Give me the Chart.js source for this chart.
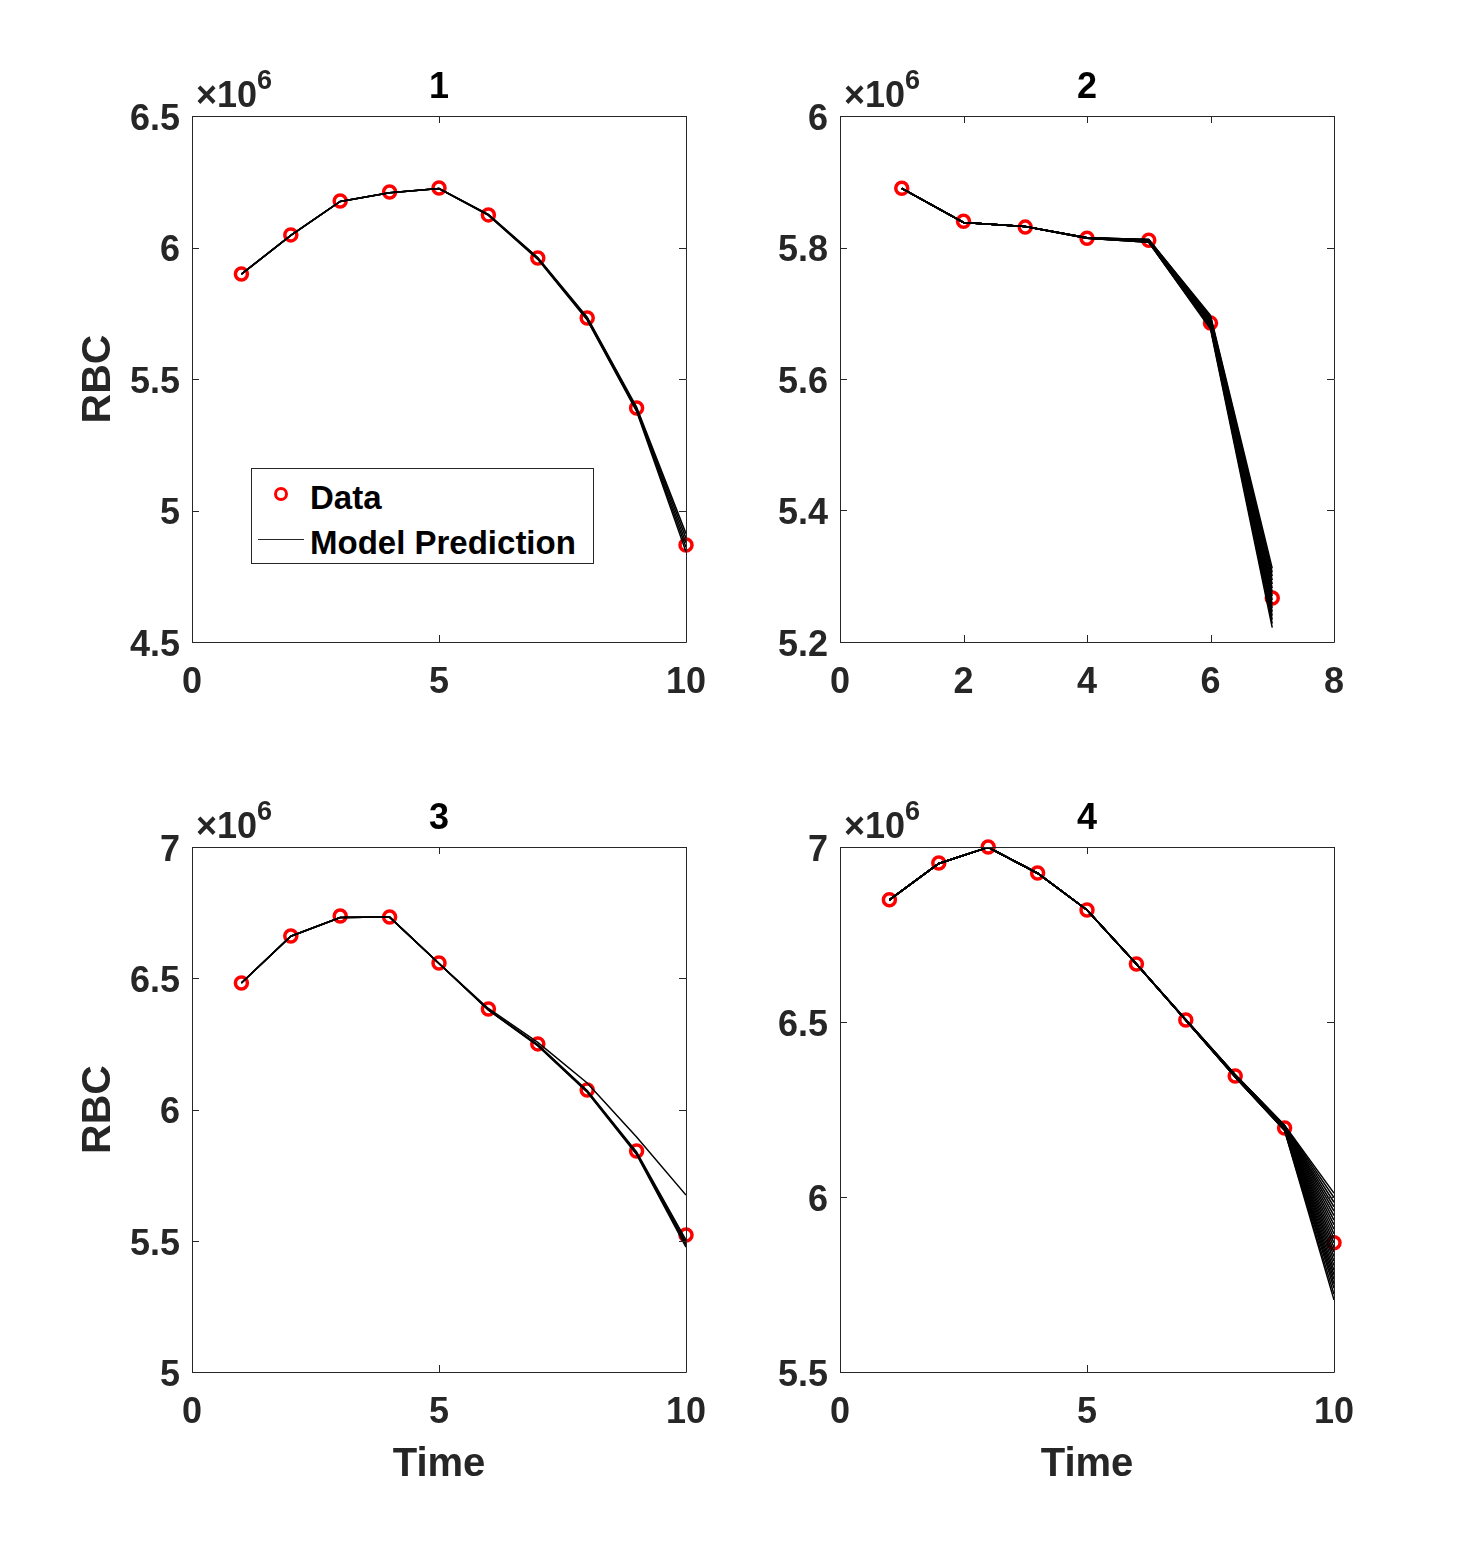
<!DOCTYPE html>
<html>
<head>
<meta charset="utf-8">
<script src="https://cdn.jsdelivr.net/npm/chart.js@4.4.0/dist/chart.umd.min.js"></script>
<style>
  body { margin: 0; background: #fff; width: 1475px; height: 1542px; position: relative; overflow: hidden;
         font-family: "Liberation Sans", Arial, sans-serif; }
  canvas { position: absolute; }
  #legend { position: absolute; left: 251px; top: 468px; width: 341px; height: 94px;
            border: 1px solid #262626; background: #fff; }
  #legend span { position: absolute; font-weight: bold; font-size: 33px; line-height: 33px; color: #000; white-space: nowrap; }
  #legend .mark { position: absolute; width: 14px; height: 14px; box-sizing: border-box;
                  border: 3.5px solid #ff0000; border-radius: 50%; }
  #legend .line { position: absolute; height: 0; border-top: 1px solid #262626; }
</style>
</head>
<body>
<canvas id="c1" width="666" height="722" style="left:60px;top:40px"></canvas>
<canvas id="c2" width="666" height="722" style="left:708px;top:40px"></canvas>
<canvas id="c3" width="666" height="731" style="left:60px;top:771px"></canvas>
<canvas id="c4" width="666" height="731" style="left:708px;top:771px"></canvas>

<div id="legend">
  <div class="mark" style="left:22px;top:18px"></div>
  <span style="left:58px;top:12px">Data</span>
  <div class="line" style="left:6px;top:70px;width:46px"></div>
  <span style="left:58px;top:57px">Model Prediction</span>
</div>

<script>
// RBC values in units of 10^6

// Panel 1
const time1 = [1, 2, 3, 4, 5, 6, 7, 8, 9, 10];
const rbc1 = [5.899, 6.048, 6.177, 6.211, 6.226, 6.124, 5.960, 5.732, 5.390, 4.869];
const model1 = [
  [5.899, 6.046, 6.175, 6.208, 6.224, 6.126, 5.962, 5.735, 5.393, 4.912],
  [5.899, 6.046, 6.175, 6.208, 6.224, 6.125, 5.960, 5.732, 5.389, 4.895],
  [5.899, 6.046, 6.175, 6.208, 6.224, 6.124, 5.958, 5.729, 5.385, 4.877],
  [5.899, 6.046, 6.175, 6.208, 6.224, 6.123, 5.957, 5.727, 5.381, 4.860],
  [5.899, 6.046, 6.175, 6.208, 6.224, 6.122, 5.955, 5.724, 5.377, 4.843]
];

// Panel 2
const time2 = [1, 2, 3, 4, 5, 6, 7];
const rbc2 = [5.890, 5.840, 5.831, 5.814, 5.811, 5.685, 5.267];
const model2 = [
  [5.890, 5.838, 5.832, 5.815, 5.812, 5.697, 5.312],
  [5.890, 5.838, 5.832, 5.815, 5.812, 5.695, 5.306],
  [5.890, 5.838, 5.832, 5.815, 5.812, 5.694, 5.300],
  [5.890, 5.838, 5.832, 5.815, 5.811, 5.692, 5.294],
  [5.890, 5.838, 5.832, 5.815, 5.811, 5.691, 5.288],
  [5.890, 5.838, 5.832, 5.815, 5.811, 5.689, 5.282],
  [5.890, 5.838, 5.832, 5.815, 5.811, 5.688, 5.276],
  [5.890, 5.838, 5.832, 5.815, 5.810, 5.686, 5.270],
  [5.890, 5.838, 5.832, 5.815, 5.810, 5.685, 5.264],
  [5.890, 5.838, 5.832, 5.815, 5.810, 5.684, 5.258],
  [5.890, 5.838, 5.832, 5.814, 5.809, 5.682, 5.252],
  [5.890, 5.838, 5.832, 5.814, 5.809, 5.681, 5.246],
  [5.890, 5.838, 5.832, 5.814, 5.809, 5.680, 5.240],
  [5.890, 5.838, 5.832, 5.814, 5.808, 5.679, 5.234],
  [5.890, 5.838, 5.832, 5.814, 5.808, 5.678, 5.228],
  [5.890, 5.838, 5.832, 5.814, 5.808, 5.676, 5.222]
];

// Panel 3
const time3 = [1, 2, 3, 4, 5, 6, 7, 8, 9, 10];
const rbc3 = [6.482, 6.661, 6.737, 6.733, 6.558, 6.383, 6.250, 6.074, 5.842, 5.522];
const model3 = [
  [6.482, 6.660, 6.731, 6.733, 6.556, 6.381, 6.247, 6.072, 5.838, 5.503],
  [6.482, 6.660, 6.731, 6.733, 6.556, 6.380, 6.245, 6.070, 5.834, 5.494],
  [6.482, 6.660, 6.731, 6.733, 6.556, 6.379, 6.244, 6.068, 5.831, 5.485],
  [6.482, 6.660, 6.731, 6.733, 6.556, 6.378, 6.242, 6.066, 5.828, 5.476],
  [6.482, 6.660, 6.731, 6.733, 6.556, 6.385, 6.256, 6.101, 5.895, 5.674]
];

// Panel 4
const time4 = [1, 2, 3, 4, 5, 6, 7, 8, 9, 10];
const rbc4 = [6.849, 6.954, 7.000, 6.926, 6.820, 6.666, 6.506, 6.346, 6.197, 5.869];
const model4 = [
  [6.849, 6.953, 6.999, 6.925, 6.820, 6.666, 6.507, 6.350, 6.205, 6.011],
  [6.849, 6.953, 6.999, 6.925, 6.820, 6.666, 6.507, 6.349, 6.204, 5.998],
  [6.849, 6.953, 6.999, 6.925, 6.820, 6.666, 6.507, 6.349, 6.204, 5.985],
  [6.849, 6.953, 6.999, 6.925, 6.820, 6.666, 6.507, 6.349, 6.203, 5.972],
  [6.849, 6.953, 6.999, 6.925, 6.820, 6.666, 6.506, 6.348, 6.202, 5.960],
  [6.849, 6.953, 6.999, 6.925, 6.820, 6.666, 6.506, 6.348, 6.202, 5.947],
  [6.849, 6.953, 6.999, 6.925, 6.820, 6.666, 6.506, 6.348, 6.201, 5.934],
  [6.849, 6.953, 6.999, 6.925, 6.820, 6.666, 6.506, 6.347, 6.200, 5.921],
  [6.849, 6.953, 6.999, 6.925, 6.820, 6.666, 6.506, 6.347, 6.200, 5.908],
  [6.849, 6.953, 6.999, 6.925, 6.820, 6.666, 6.506, 6.347, 6.199, 5.895],
  [6.849, 6.953, 6.999, 6.925, 6.820, 6.666, 6.506, 6.346, 6.198, 5.882],
  [6.849, 6.953, 6.999, 6.925, 6.820, 6.666, 6.506, 6.346, 6.198, 5.869],
  [6.849, 6.953, 6.999, 6.925, 6.820, 6.666, 6.506, 6.346, 6.197, 5.856],
  [6.849, 6.953, 6.999, 6.925, 6.820, 6.666, 6.506, 6.345, 6.196, 5.843],
  [6.849, 6.953, 6.999, 6.925, 6.820, 6.666, 6.505, 6.345, 6.196, 5.830],
  [6.849, 6.953, 6.999, 6.925, 6.820, 6.666, 6.505, 6.345, 6.195, 5.817],
  [6.849, 6.953, 6.999, 6.925, 6.820, 6.666, 6.505, 6.344, 6.194, 5.804],
  [6.849, 6.953, 6.999, 6.925, 6.820, 6.666, 6.505, 6.344, 6.194, 5.791],
  [6.849, 6.953, 6.999, 6.925, 6.820, 6.666, 6.505, 6.344, 6.193, 5.778],
  [6.849, 6.953, 6.999, 6.925, 6.820, 6.666, 6.505, 6.343, 6.192, 5.765],
  [6.849, 6.953, 6.999, 6.925, 6.820, 6.666, 6.505, 6.343, 6.192, 5.752],
  [6.849, 6.953, 6.999, 6.925, 6.820, 6.666, 6.505, 6.343, 6.191, 5.739],
  [6.849, 6.953, 6.999, 6.925, 6.820, 6.666, 6.505, 6.342, 6.190, 5.722],
  [6.849, 6.953, 6.999, 6.925, 6.820, 6.666, 6.505, 6.342, 6.190, 5.706]
];

const FONT = '"Liberation Sans", Arial, sans-serif';
const AXIS_COLOR = '#262626';

// box, inward ticks on all sides, panel title and the x10^6 exponent
const matlabAxes = {
  id: 'matlabAxes',
  afterDraw(chart, args, opts) {
    const ctx = chart.ctx;
    const a = chart.chartArea;
    const xs = chart.scales.x, ys = chart.scales.y;
    const len = 7;
    ctx.save();
    ctx.strokeStyle = AXIS_COLOR;
    ctx.lineWidth = 1;
    ctx.beginPath();
    ctx.rect(Math.round(a.left) + 0.5, Math.round(a.top) + 0.5, Math.round(a.right - a.left), Math.round(a.bottom - a.top));
    xs.ticks.forEach(t => {
      const px = Math.round(xs.getPixelForValue(t.value)) + 0.5;
      ctx.moveTo(px, a.bottom); ctx.lineTo(px, a.bottom - len);
      ctx.moveTo(px, a.top); ctx.lineTo(px, a.top + len);
    });
    ys.ticks.forEach(t => {
      const py = Math.round(ys.getPixelForValue(t.value)) + 0.5;
      ctx.moveTo(a.left, py); ctx.lineTo(a.left + len, py);
      ctx.moveTo(a.right, py); ctx.lineTo(a.right - len, py);
    });
    ctx.stroke();

    // title
    ctx.fillStyle = '#000';
    ctx.font = 'bold 36px ' + FONT;
    ctx.textAlign = 'center';
    ctx.textBaseline = 'alphabetic';
    ctx.fillText(opts.title, (a.left + a.right) / 2, a.top - 18);

    // exponent label
    ctx.fillStyle = AXIS_COLOR;
    ctx.textAlign = 'left';
    ctx.font = 'bold 36px ' + FONT;
    const base = '\u00d710';
    ctx.fillText(base, a.left + 4, a.top - 9);
    const w = ctx.measureText(base).width;
    ctx.font = 'bold 27px ' + FONT;
    ctx.fillText('6', a.left + 4 + w, a.top - 27);
    ctx.restore();
  }
};

function makePanel(id, title, times, values, models, xMax, xStep, yMin, yMax, yStep, yTitle, xTitle) {
  const datasets = [{
    label: 'Data',
    data: times.map((t, i) => ({ x: t, y: values[i] })),
    showLine: false,
    borderColor: '#ff0000',
    backgroundColor: 'rgba(0,0,0,0)',
    pointRadius: 6,
    pointBorderWidth: 3.5,
    pointHoverRadius: 6,
    clip: false,
    order: 2
  }];
  models.forEach(m => {
    datasets.push({
      label: 'Model Prediction',
      data: times.map((t, i) => ({ x: t, y: m[i] })),
      borderColor: '#000',
      borderWidth: 1.5,
      pointRadius: 0,
      tension: 0,
      fill: false,
      order: 1
    });
  });

  const bottomHeight = xTitle ? 120 : 110;
  new Chart(document.getElementById(id), {
    type: 'line',
    data: { datasets: datasets },
    options: {
      responsive: false,
      animation: false,
      layout: { padding: { top: 76, right: 40, bottom: 10, left: 0 } },
      plugins: {
        legend: { display: false },
        tooltip: { enabled: false },
        matlabAxes: { title: title }
      },
      scales: {
        x: {
          type: 'linear',
          min: 0, max: xMax,
          grid: { display: false, drawTicks: false },
          border: { display: false },
          ticks: {
            stepSize: xStep,
            padding: 19,
            color: AXIS_COLOR,
            font: { family: FONT, size: 36, weight: 'bold' },
            maxRotation: 0
          },
          title: {
            display: !!xTitle,
            text: xTitle || '',
            color: AXIS_COLOR,
            font: { family: FONT, size: 40, weight: 'bold' },
            padding: { top: 0, bottom: 3 }
          },
          afterFit: s => { s.height = bottomHeight; }
        },
        y: {
          min: yMin, max: yMax,
          grid: { display: false, drawTicks: false },
          border: { display: false },
          ticks: {
            stepSize: yStep,
            padding: 12,
            labelOffset: 4,
            color: AXIS_COLOR,
            font: { family: FONT, size: 36, weight: 'bold' },
            callback: v => String(Math.round(v * 10) / 10)
          },
          title: {
            display: !!yTitle,
            text: yTitle || '',
            color: AXIS_COLOR,
            font: { family: FONT, size: 41, weight: 'bold' },
            padding: { top: 14, bottom: 0 }
          },
          afterFit: s => { s.width = 132; }
        }
      }
    },
    plugins: [matlabAxes]
  });
}

makePanel('c1', '1', time1, rbc1, model1, 10, 5, 4.5, 6.5, 0.5, 'RBC', null);
makePanel('c2', '2', time2, rbc2, model2, 8, 2, 5.2, 6.0, 0.2, null, null);
makePanel('c3', '3', time3, rbc3, model3, 10, 5, 5, 7, 0.5, 'RBC', 'Time');
makePanel('c4', '4', time4, rbc4, model4, 10, 5, 5.5, 7, 0.5, null, 'Time');
</script>
</body>
</html>
